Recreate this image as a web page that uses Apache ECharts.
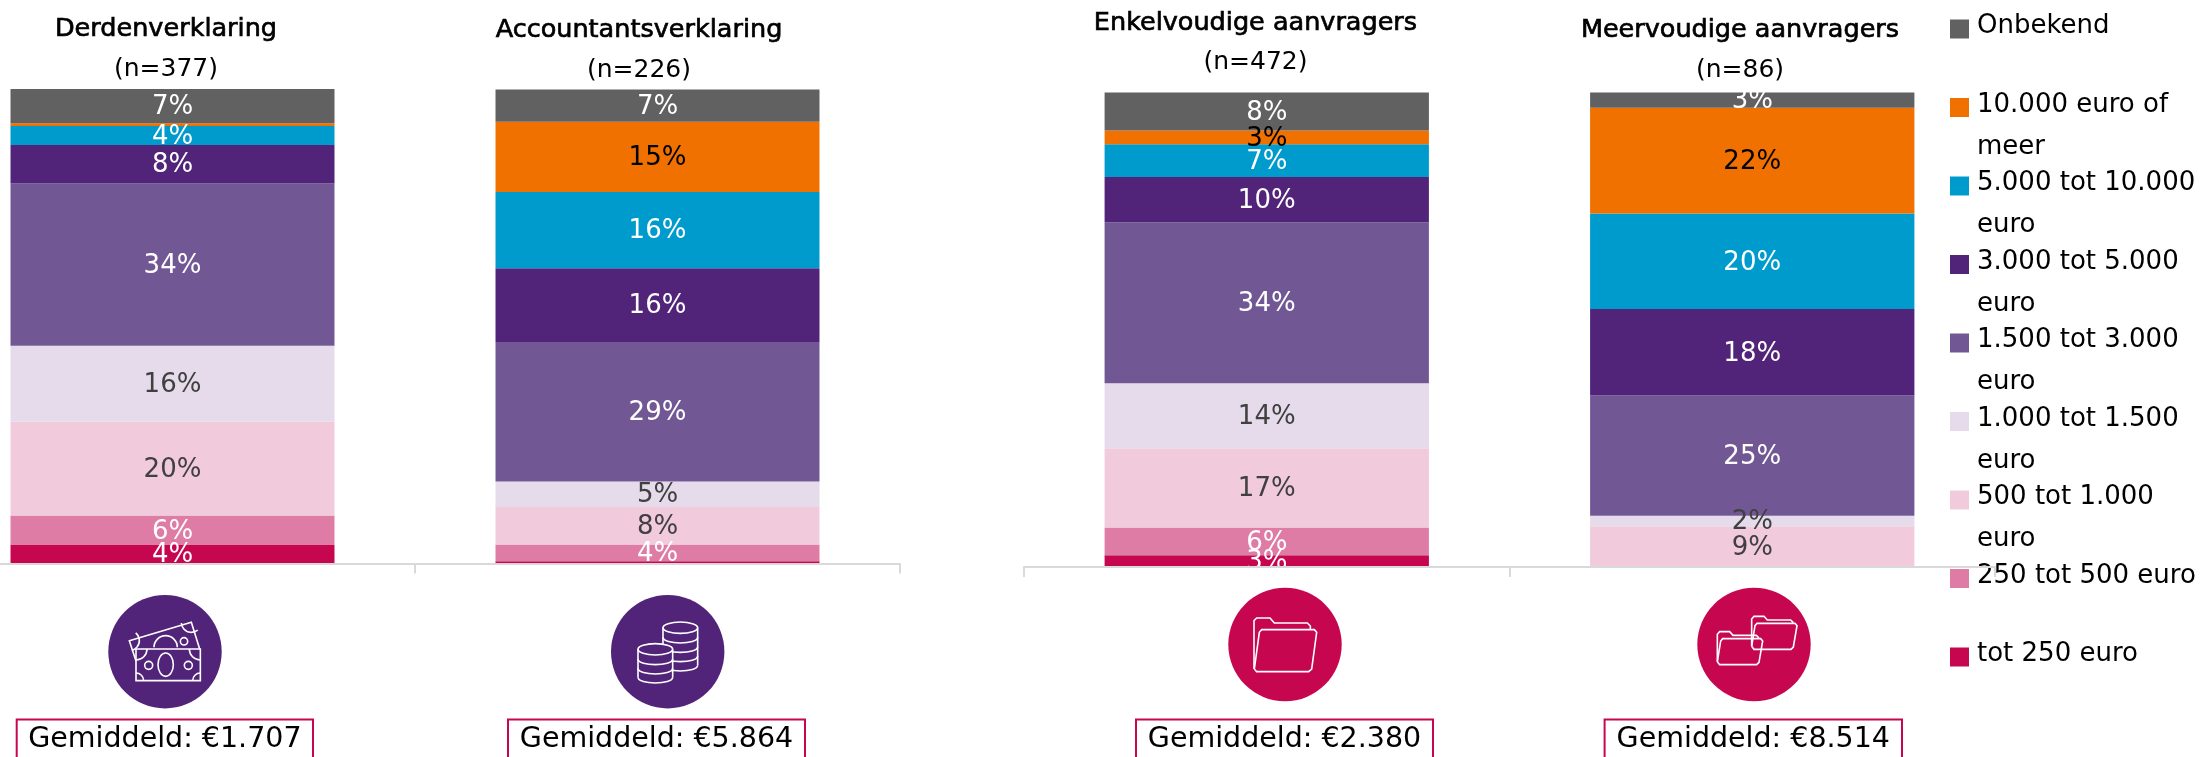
<!DOCTYPE html>
<html>
<head>
<meta charset="utf-8">
<style>html,body{margin:0;padding:0;background:#fff}#c{width:2201px;height:757px}</style>
<script src="https://cdn.jsdelivr.net/npm/echarts@6/dist/echarts.min.js"></script>
</head>
<body>
<div id="c"></div>
<script>
// Columns: Derdenverklaring, Accountantsverklaring, Enkelvoudige aanvragers, Meervoudige aanvragers
const columns = ['Derdenverklaring', 'Accountantsverklaring', 'Enkelvoudige aanvragers', 'Meervoudige aanvragers'];
const counts = ['(n=377)', '(n=226)', '(n=472)', '(n=86)'];
const averages = ['Gemiddeld: €1.707', 'Gemiddeld: €5.864', 'Gemiddeld: €2.380', 'Gemiddeld: €8.514'];

const tot250      = [3.9, 0.5, 2.5, 0];
const t250_500    = [6.2, 3.5, 5.8, 0];
const t500_1000   = [19.8, 7.9, 16.7, 8.6];
const t1000_1500  = [16.0, 5.4, 13.7, 2.2];
const t1500_3000  = [34.2, 29.4, 33.9, 25.3];
const t3000_5000  = [8.1, 15.5, 9.5, 18.2];
const t5000_10000 = [4.0, 16.1, 6.9, 20.1];
const t10000      = [0.6, 14.8, 2.9, 22.3];
const onbekend    = [7.2, 6.8, 8.0, 3.2];

const bands = [
  ['tot 250 euro', tot250, '#C60750', '#fff'],
  ['250 tot 500 euro', t250_500, '#DE7CA6', '#fff'],
  ['500 tot 1.000 euro', t500_1000, '#F1CBDC', '#404040'],
  ['1.000 tot 1.500 euro', t1000_1500, '#E5DBEA', '#404040'],
  ['1.500 tot 3.000 euro', t1500_3000, '#715895', '#fff'],
  ['3.000 tot 5.000 euro', t3000_5000, '#51247A', '#fff'],
  ['5.000 tot 10.000 euro', t5000_10000, '#009BCD', '#fff'],
  ['10.000 euro of meer', t10000, '#F07000', '#000'],
  ['Onbekend', onbekend, '#616161', '#fff']
];
const legendText = {
  'Onbekend': ['Onbekend', ' '],
  '10.000 euro of meer': ['10.000 euro of', 'meer'],
  '5.000 tot 10.000 euro': ['5.000 tot 10.000', 'euro'],
  '3.000 tot 5.000 euro': ['3.000 tot 5.000', 'euro'],
  '1.500 tot 3.000 euro': ['1.500 tot 3.000', 'euro'],
  '1.000 tot 1.500 euro': ['1.000 tot 1.500', 'euro'],
  '500 tot 1.000 euro': ['500 tot 1.000', 'euro'],
  '250 tot 500 euro': ['250 tot 500 euro', ' '],
  'tot 250 euro': ['tot 250 euro', ' ']
};

const FONT = '"DejaVu Sans"';
const PURPLE = '#51247A', CRIMSON = '#C60750';

const series = [];
[[0, 1], [2, 3]].forEach((cols, g) => {
  bands.forEach(([name, vals, color, labelColor]) => {
    series.push({
      type: 'bar', name, stack: 'g' + g, xAxisIndex: g, yAxisIndex: g,
      barCategoryGap: '33.2%',
      data: cols.map(c => vals[c]),
      itemStyle: { color },
      label: {
        show: true, position: 'inside', offset: [0, 1.5], color: labelColor, fontFamily: FONT, fontSize: 26,
        formatter: p => p.value < 1 ? '' : Math.round(p.value) + '%'
      }
    });
  });
});

const axisCommon = {
  type: 'category', z: 20, offset: 1,
  axisLine: { lineStyle: { color: '#D9D9D9', width: 2 } },
  axisTick: { show: true, length: 10, lineStyle: { color: '#D9D9D9', width: 2 } },
  axisLabel: { show: false }
};

// white strokes for the icons; x,y are in a 3x local frame
function iconGroup(ox, oy, children) {
  return { type: 'group', x: ox, y: oy, children: children.map(c => Object.assign({ z: 5 }, c)) };
}
const W = { stroke: '#fff', lineWidth: 1.6, fill: null };
const k = v => v / 3;
const poly = pts => ({ type: 'polyline', shape: { points: pts.map(p => [k(p[0]), k(p[1])]) }, style: W });
const ell = (cx, cy, rx, ry) => ({ type: 'ellipse', shape: { cx: k(cx), cy: k(cy), rx: k(rx), ry: k(ry) }, style: W });
const arc = (cx, cy, r, a0, a1) => ({ type: 'arc', shape: { cx: k(cx), cy: k(cy), r: k(r), startAngle: a0, endAngle: a1, clockwise: true }, style: W });
const under = (x, y, rx, ry) => ({ type: 'bezierCurve', shape: { x1: k(x - rx), y1: k(y), x2: k(x + rx), y2: k(y), cpx1: k(x - rx), cpy1: k(y + ry * 4 / 3), cpx2: k(x + rx), cpy2: k(y + ry * 4 / 3) }, style: W });
const PI = Math.PI;

const notes = [
  poly([[108, 213], [88, 152], [274, 97], [299, 177]]),
  arc(88, 152, 30, -PI * 0.28, PI * 0.42),
  arc(274, 97, 30, PI * 0.28, PI * 0.98),
  { type: 'arc', shape: { cx: k(197), cy: k(172), r: k(35), startAngle: PI, endAngle: 2 * PI, clockwise: true }, style: W },
  ell(252, 154, 11, 11),
  poly([[108, 177], [301, 177], [301, 272], [108, 272], [108, 177]]),
  ell(197, 224, 23, 35),
  ell(146, 226, 12, 12),
  ell(265, 226, 12, 12),
  arc(108, 177, 33, 0, PI / 2),
  arc(301, 177, 33, PI / 2, PI),
  arc(108, 272, 23, -PI / 2, 0),
  arc(301, 272, 23, PI, PI * 1.5)
];
const coins = [
  ell(232, 113, 52, 17),
  poly([[180, 113], [180, 190]]),
  poly([[284, 113], [284, 225]]),
  under(232, 142, 52, 17), under(232, 170, 52, 17), under(232, 198, 52, 17), under(232, 226, 52, 17),
  { type: 'rect', shape: { x: k(105), y: k(178), width: k(104), height: k(84) }, style: { fill: PURPLE } },
  { type: 'ellipse', shape: { cx: k(157), cy: k(262), rx: k(52), ry: k(17) }, style: { fill: PURPLE } },
  { type: 'ellipse', shape: { cx: k(157), cy: k(178), rx: k(52), ry: k(17) }, style: { fill: PURPLE, stroke: '#fff', lineWidth: 1.6 } },
  poly([[105, 178], [105, 262]]),
  poly([[209, 178], [209, 262]]),
  under(157, 207, 52, 17), under(157, 235, 52, 17), under(157, 262, 52, 17)
];
const folder = [
  poly([[102, 258], [102, 113], [110, 105], [150, 105], [163, 120], [262, 120], [271, 129], [271, 140]]),
  poly([[103, 258], [118, 148], [125, 140], [283, 140], [290, 148], [275, 258], [266, 266], [110, 266], [103, 258]])
];
const smallFolder = (dx, dy) => [
  poly([[188 + dx, 190 + dy], [188 + dx, 108 + dy], [195 + dx, 100 + dy], [225 + dx, 100 + dy], [235 + dx, 111 + dy], [305 + dx, 111 + dy], [313 + dx, 119 + dy]]),
  poly([[188 + dx, 190 + dy], [198 + dx, 128 + dy], [204 + dx, 121 + dy], [318 + dx, 121 + dy], [324 + dx, 128 + dy], [313 + dx, 192 + dy], [306 + dx, 199 + dy], [195 + dx, 199 + dy], [188 + dx, 190 + dy]])
];

const circleAt = [[165, 651.7, PURPLE], [667.7, 651.7, PURPLE], [1285, 644.5, CRIMSON], [1754, 644.5, CRIMSON]];
const iconOrigin = [[100, 590], [603, 590], [1220, 583], [1689, 583]];
const iconParts = [notes, coins, folder, smallFolder(0, 0).concat(smallFolder(-103, 46))];
const boxAt = [[16.7, 313], [508, 805], [1136, 1433], [1604.6, 1902]];
const titleAt = [[166, 14, 54], [639, 15, 55], [1255.5, 8, 47], [1740, 15, 55]];

const graphic = [
  // white strips that clip labels running below the axis baselines
  { type: 'rect', z: 10, shape: { x: 0, y: 564, width: 980, height: 20 }, style: { fill: '#fff' }, silent: true },
  { type: 'rect', z: 10, shape: { x: 1020, y: 567, width: 900, height: 20 }, style: { fill: '#fff' }, silent: true }
];
circleAt.forEach(([x, y, c], i) => {
  graphic.push({ type: 'circle', z: 4, shape: { cx: x, cy: y, r: 56.7 }, style: { fill: c } });
  graphic.push(iconGroup(iconOrigin[i][0], iconOrigin[i][1], iconParts[i]));
  const [x0, x1] = boxAt[i];
  graphic.push({ type: 'rect', z: 4, shape: { x: x0, y: 719.5, width: x1 - x0, height: 60 }, style: { fill: '#fff', stroke: CRIMSON, lineWidth: 2 } });
  graphic.push({ type: 'text', z: 5, x: (x0 + x1) / 2, y: 740, style: { text: averages[i], fill: '#000', font: '28.5px ' + FONT, textAlign: 'center', textVerticalAlign: 'middle' } });
  const [tx, ty, ny] = titleAt[i];
  graphic.push({ type: 'text', z: 5, x: tx, y: ty + 15, style: { text: columns[i], fill: '#000', stroke: '#000', lineWidth: 0.7, font: '25.5px ' + FONT, textAlign: 'center', textVerticalAlign: 'middle' } });
  graphic.push({ type: 'text', z: 5, x: tx, y: ny + 15, style: { text: counts[i], fill: '#000', font: '25px ' + FONT, textAlign: 'center', textVerticalAlign: 'middle' } });
});

const option = {
  animation: false,
  backgroundColor: '#fff',
  grid: [
    { left: -70, width: 970, top: 89, height: 474.5, outerBoundsMode: 'none' },
    { left: 1024, width: 971, top: 92, height: 475, outerBoundsMode: 'none' }
  ],
  xAxis: [
    Object.assign({ gridIndex: 0, data: [columns[0], columns[1]] }, axisCommon),
    Object.assign({ gridIndex: 1, data: [columns[2], columns[3]] }, axisCommon)
  ],
  yAxis: [
    { type: 'value', gridIndex: 0, min: 0, max: 100, show: false },
    { type: 'value', gridIndex: 1, min: 0, max: 100, show: false }
  ],
  legend: {
    orient: 'vertical', left: 1950, top: -18, height: 1000, padding: 0,
    itemWidth: 19, itemHeight: 19, itemGap: -21, icon: 'rect', selectedMode: false,
    data: bands.map(b => b[0]).reverse(),
    formatter: n => '{b|\u00a0}\n' + legendText[n].map(t => '{a|' + t + '}').join('\n'),
    textStyle: {
      rich: {
        a: { fontFamily: FONT, fontSize: 26, color: '#000', lineHeight: 42, padding: [0, 0, 0, 3] },
        b: { fontFamily: FONT, fontSize: 10, color: '#000', lineHeight: 37 }
      }
    }
  },
  series,
  graphic
};
echarts.init(document.getElementById('c')).setOption(option);
</script>
</body>
</html>
